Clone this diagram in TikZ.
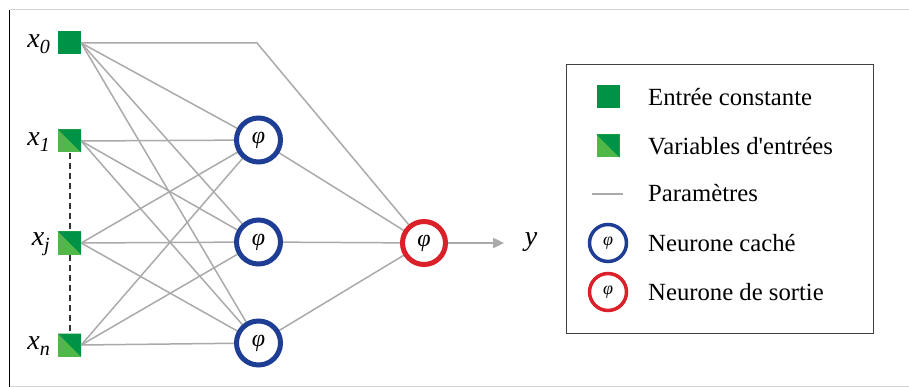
\documentclass[tikz,border=0pt]{standalone}
\usepackage{fontspec}
\setmainfont{Liberation Serif}
\usetikzlibrary{arrows.meta}
\definecolor{darkg}{RGB}{0,146,69}
\definecolor{lightg}{RGB}{80,184,72}
\definecolor{hblue}{RGB}{30,62,150}
\definecolor{ored}{RGB}{218,32,40}
\definecolor{edgegray}{RGB}{170,170,170}
\newcommand{\xlab}[1]{{\fontsize{28}{30}\selectfont\itshape x\raisebox{-0.45ex}{\fontsize{20}{20}\selectfont #1}}}
\newcommand{\phig}{{\itshape φ}}
\tikzset{
  constin/.style={rectangle, minimum size=23pt, inner sep=0pt, fill=darkg},
  varin/.style={rectangle, minimum size=23pt, inner sep=0pt, fill=lightg,
    path picture={\fill[darkg] (path picture bounding box.north west) -- (path picture bounding box.north east) -- (path picture bounding box.south east) -- cycle;}},
  hidden/.style={circle, draw=hblue, line width=5pt, fill=white, minimum size=44pt, inner sep=0pt, font=\fontsize{24}{24}\selectfont},
  outn/.style={circle, draw=ored, line width=5pt, fill=white, minimum size=43pt, inner sep=0pt, font=\fontsize{24}{24}\selectfont},
  lhidden/.style={circle, draw=hblue, line width=3.5pt, fill=white, minimum size=37pt, inner sep=0pt, font=\fontsize{18}{18}\selectfont},
  lout/.style={circle, draw=ored, line width=3.5pt, fill=white, minimum size=37pt, inner sep=0pt, font=\fontsize{18}{18}\selectfont},
  param/.style={draw=edgegray, line width=1.5pt},
  legtext/.style={anchor=west, inner sep=0pt, font=\fontsize{24.7}{28}\selectfont},
  xlabel/.style={anchor=east, inner sep=0pt},
  dots/.style={draw=black!80, line width=2pt, dash pattern=on 6pt off 4pt}
}
\begin{document}
\begin{tikzpicture}[x=1pt,y=-1pt]
\useasboundingbox (0,0) rectangle (909,387);
% outer frame
\draw[gray!35, line width=1pt] (9.5,10) -- (909,10);
\draw[gray!35, line width=1pt] (9.5,386) -- (909,386);
\draw[black, line width=1pt] (9.5,10) -- (9.5,387);
% inputs
\node[constin] (x0) at (69.5,43) {};
\node[varin] (x1) at (69.5,141) {};
\node[varin] (xj) at (69.5,243) {};
\node[varin] (xn) at (69.5,345) {};
\node[xlabel] (lx0) at (50,44) {\xlab{0}};
\node[xlabel] (lx1) at (50,142) {\xlab{1}};
\node[xlabel] (lxj) at (50,244) {\xlab{j}};
\node[xlabel] (lxn) at (50,346) {\xlab{n}};
\draw[dots] (x1.south) -- (xj.north);
\draw[dots] (xj.south) -- (xn.north);
% neuron positions
\coordinate (h1p) at (258.5,140);
\coordinate (h2p) at (258.5,242);
\coordinate (h3p) at (258.5,343);
\coordinate (op) at (424,243);
\coordinate (bend) at (257,43);
\coordinate (tip) at (504,243);
% parameters (edges)
\foreach \s in {x0,x1,xj,xn}{
  \foreach \t in {h1p,h2p,h3p}{
    \draw[param] (\s.east) -- (\t);
  }
}
\draw[param] (x0.east) -- (bend) -- (op);
\foreach \t in {h1p,h2p,h3p}{
  \draw[param] (\t) -- (op);
}
% neurons
\node[hidden] (h1) at (h1p) {\phig};
\node[hidden] (h2) at (h2p) {\phig};
\node[hidden] (h3) at (h3p) {\phig};
\node[outn] (o) at (op) {\phig};
\draw[param, -{Triangle[angle=50:12pt, fill=edgegray]}] (o) -- (tip);
\node[inner sep=0pt, font=\fontsize{28}{30}\selectfont\itshape] (y) at (531,242) {y};
% legend
\draw[black!75, line width=1pt] (566,65) rectangle (873,333);
\node[constin] (l1) at (608,97) {};
\node[varin] (l2) at (608,146) {};
\coordinate (l3a) at (592,194);
\coordinate (l3b) at (623,194);
\draw[param] (l3a) -- (l3b);
\node[lhidden] (l4) at (608,243) {\phig};
\node[lout] (l5) at (608,292) {\phig};
\node[legtext] (t1) at (648,97) {Entrée constante};
\node[legtext] (t2) at (648,146) {Variables d\textquotesingle entrées};
\node[legtext] (t3) at (648,193) {Paramètres};
\node[legtext] (t4) at (648,243) {Neurone caché};
\node[legtext] (t5) at (648,292) {Neurone de sortie};
\end{tikzpicture}
\end{document}
